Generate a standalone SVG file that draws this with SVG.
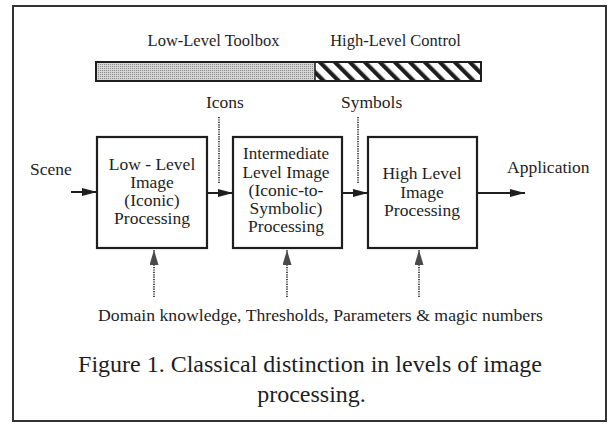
<svg xmlns="http://www.w3.org/2000/svg" width="609" height="426" viewBox="0 0 609 426">
  <style>
    text { font-family: "Liberation Serif", "Times New Roman", serif; fill: #1e1e1e; }
    .lbl { font-size: 17.5px; }
    .bx { font-size: 16px; text-anchor: middle; }
    .top { font-size: 16.5px; }
    .cap { font-size: 24px; }
    .box { fill: #ffffff; stroke: #1e1e1e; stroke-width: 2.2; }
    .flow { stroke: #1e1e1e; stroke-width: 2; fill: none; }
    .dot { stroke: #4a4a4a; stroke-width: 2; stroke-dasharray: 1.2 1.2; fill: none; }
  </style>
  <defs>
    <pattern id="stipple" patternUnits="userSpaceOnUse" width="2" height="2">
      <rect width="2" height="2" fill="#d6d6d6"/>
      <rect width="1" height="1" fill="#8a8a8a"/>
    </pattern>
    <pattern id="stripes" patternUnits="userSpaceOnUse" width="10.6" height="10.6" patternTransform="rotate(-45)">
      <rect width="10.6" height="10.6" fill="#ffffff"/>
      <rect width="4.2" height="10.6" fill="#1e1e1e"/>
    </pattern>
    <marker id="ah" markerUnits="userSpaceOnUse" markerWidth="16" markerHeight="10" refX="15" refY="4" orient="auto">
      <path d="M0,0 L15,4 L0,8 Z" fill="#1e1e1e"/>
    </marker>
    <marker id="ahg" markerUnits="userSpaceOnUse" markerWidth="16" markerHeight="10" refX="15" refY="4.5" orient="auto">
      <path d="M0,0 L15,4.5 L0,9 Z" fill="#4a4a4a"/>
    </marker>
  </defs>

  <rect id="frame" x="13" y="6" width="593" height="415" fill="#ffffff" stroke="#333333" stroke-width="2"/>

  <g id="toolbar">
    <rect x="96" y="62" width="219" height="19" fill="url(#stipple)"/>
    <rect x="315" y="62" width="166" height="19" fill="url(#stripes)"/>
    <rect x="96" y="62" width="385" height="19" fill="none" stroke="#1e1e1e" stroke-width="2"/>
    <line x1="315" y1="62" x2="315" y2="81" stroke="#1e1e1e" stroke-width="1.5"/>
    <text class="top" x="213.5" y="46" text-anchor="middle">Low-Level Toolbox</text>
    <text class="top" x="395.5" y="46" text-anchor="middle">High-Level Control</text>
  </g>

  <g id="box1">
    <rect class="box" x="97" y="137" width="110" height="111"/>
    <text class="bx" x="152" y="170" textLength="86.5" lengthAdjust="spacingAndGlyphs">Low - Level</text>
    <text class="bx" x="152" y="188" textLength="43.7" lengthAdjust="spacingAndGlyphs">Image</text>
    <text class="bx" x="152" y="206" textLength="55.4" lengthAdjust="spacingAndGlyphs">(Iconic)</text>
    <text class="bx" x="152" y="224" textLength="75.8" lengthAdjust="spacingAndGlyphs">Processing</text>
  </g>

  <g id="box2">
    <rect class="box" x="233" y="137" width="109" height="111"/>
    <text class="bx" x="286" y="159" textLength="86" lengthAdjust="spacingAndGlyphs">Intermediate</text>
    <text class="bx" x="286" y="177.5" textLength="87" lengthAdjust="spacingAndGlyphs">Level Image</text>
    <text class="bx" x="286" y="196" textLength="74.8" lengthAdjust="spacingAndGlyphs">(Iconic-to-</text>
    <text class="bx" x="286" y="214" textLength="72.9" lengthAdjust="spacingAndGlyphs">Symbolic)</text>
    <text class="bx" x="286" y="232" textLength="75.8" lengthAdjust="spacingAndGlyphs">Processing</text>
  </g>

  <g id="box3">
    <rect class="box" x="368" y="137" width="109" height="111"/>
    <text class="bx" x="422" y="179" textLength="79.2" lengthAdjust="spacingAndGlyphs">High Level</text>
    <text class="bx" x="422" y="197.5" textLength="43.7" lengthAdjust="spacingAndGlyphs">Image</text>
    <text class="bx" x="422" y="216" textLength="75.8" lengthAdjust="spacingAndGlyphs">Processing</text>
  </g>

  <g id="scene">
    <text class="lbl" x="30" y="175">Scene</text>
  </g>
  <g id="application">
    <text class="lbl" x="507" y="173">Application</text>
  </g>
  <g id="icons">
    <text class="lbl" x="206" y="108">Icons</text>
  </g>
  <g id="symbols">
    <text class="lbl" x="341" y="108">Symbols</text>
  </g>
  <g id="knowledge">
    <text class="lbl" x="320.5" y="321" text-anchor="middle" textLength="445" lengthAdjust="spacingAndGlyphs">Domain knowledge, Thresholds, Parameters &amp; magic numbers</text>
  </g>

  <g id="connectors">
    <line class="flow" x1="71" y1="192" x2="97" y2="192" marker-end="url(#ah)"/>
    <line class="flow" x1="207" y1="193" x2="233" y2="193" marker-end="url(#ah)"/>
    <line class="flow" x1="342" y1="193" x2="368" y2="193" marker-end="url(#ah)"/>
    <line class="flow" x1="477" y1="193" x2="525" y2="193" marker-end="url(#ah)"/>
    <line class="dot" x1="219" y1="117" x2="219" y2="184"/>
    <line class="dot" x1="358" y1="117" x2="358" y2="184"/>
    <line class="dot" x1="154" y1="297" x2="154" y2="250" marker-end="url(#ahg)"/>
    <line class="dot" x1="287" y1="297" x2="287" y2="250" marker-end="url(#ahg)"/>
    <line class="dot" x1="419" y1="297" x2="419" y2="250" marker-end="url(#ahg)"/>
  </g>

  <g id="caption">
    <text class="cap" x="310" y="372" text-anchor="middle">Figure 1. Classical distinction in levels of image</text>
    <text class="cap" x="311.5" y="402" text-anchor="middle">processing.</text>
  </g>
</svg>
